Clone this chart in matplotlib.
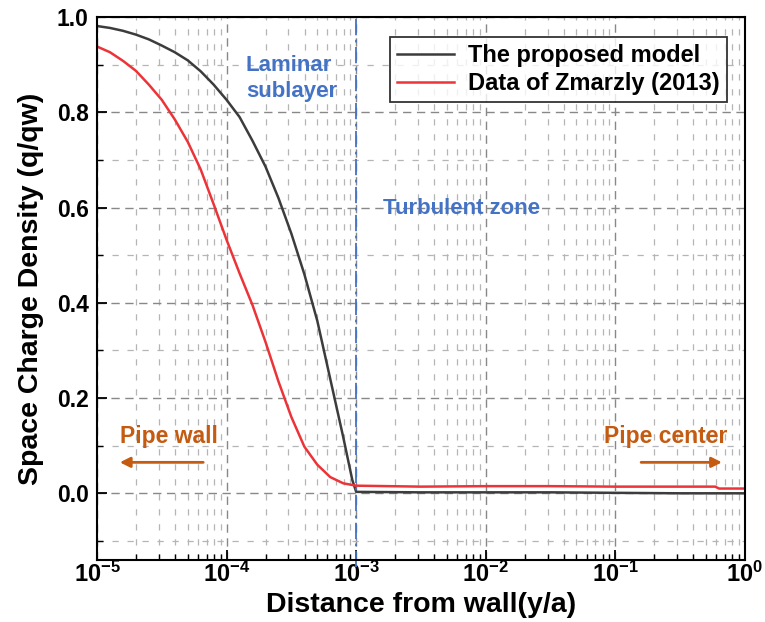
import numpy as np
import matplotlib.pyplot as plt
from matplotlib.ticker import LogLocator, MultipleLocator, FixedLocator

plt.rcParams['font.family'] = ['Liberation Sans', 'DejaVu Sans']
plt.rcParams['font.weight'] = 'bold'
plt.rcParams['mathtext.fontset'] = 'custom'
plt.rcParams['mathtext.rm'] = 'Liberation Sans:bold'
plt.rcParams['mathtext.it'] = 'Liberation Sans:bold'
plt.rcParams['mathtext.bf'] = 'Liberation Sans:bold'

# proposed model: log10(y/a) against q/qw
model_logy = [-5.0, -4.9, -4.8, -4.7, -4.6, -4.5, -4.4, -4.3, -4.2, -4.1, -4.0,
              -3.9, -3.8, -3.7, -3.6, -3.5, -3.4, -3.3, -3.2, -3.1, -3.03, -3.0,
              -2.5, -2.0, -1.5, -1.0, -0.5, 0.0]
model_q = [0.981, 0.977, 0.971, 0.963, 0.953, 0.940, 0.926, 0.909, 0.886, 0.858, 0.826,
           0.790, 0.740, 0.686, 0.620, 0.545, 0.460, 0.362, 0.240, 0.118, 0.028, 0.003,
           0.002, 0.002, 0.002, 0.001, 0.0, 0.0]

# Zmarzly (2013)
data_logy = [-5.0, -4.9, -4.8, -4.7, -4.6, -4.5, -4.4, -4.3, -4.2, -4.1, -4.0,
             -3.9, -3.8, -3.7, -3.6, -3.5, -3.4, -3.3, -3.2, -3.1, -3.0,
             -2.5, -2.0, -1.5, -1.0, -0.5, -0.23, -0.2, 0.0]
data_q = [0.938, 0.926, 0.908, 0.887, 0.858, 0.826, 0.785, 0.738, 0.680, 0.607, 0.532,
          0.462, 0.395, 0.318, 0.235, 0.160, 0.098, 0.060, 0.034, 0.021, 0.016,
          0.014, 0.015, 0.015, 0.014, 0.014, 0.014, 0.010, 0.010]

xt_values = [1e-5, 1e-4, 1e-3, 1e-2, 1e-1, 1]
xt_labels = ['$10^{-5}$', '$10^{-4}$', '$10^{-3}$', '$10^{-2}$', '$10^{-1}$', '$10^{0}$']
yt_values = [0.0, 0.2, 0.4, 0.6, 0.8, 1.0]
yt_labels = ['0.0', '0.2', '0.4', '0.6', '0.8', '1.0']

fig = plt.figure(figsize=(7.65, 6.22), dpi=100)
ax = fig.add_axes([0.1268, 0.0997, 0.847, 0.873])

ax.plot(10 ** np.array(model_logy), model_q, color='#3c3c3c', lw=1.8, label='The proposed model')
ax.plot(10 ** np.array(data_logy), data_q, color='#ec3438', lw=1.8, label='Data of Zmarzly (2013)')

# boundary between laminar sublayer and turbulent zone
ax.plot([1e-3, 1e-3], [-0.155, 1.0], color='#4472C4', lw=1.3,
        ls=(0, (9, 2.5, 1.5, 2.5)), clip_on=False)

ax.set_xscale('log')
ax.set_xlim(1e-5, 1)
ax.set_ylim(-0.14, 1.0)
ax.xaxis.set_major_locator(FixedLocator(xt_values))
ax.set_xticklabels(xt_labels, fontsize=17)
ax.xaxis.set_minor_locator(LogLocator(base=10, subs=np.arange(2, 10), numticks=20))
ax.set_yticks(yt_values)
ax.set_yticklabels(yt_labels, fontsize=16.5)
ax.yaxis.set_minor_locator(MultipleLocator(0.1))

ax.tick_params(which='major', direction='in', length=7, width=1.3)
ax.tick_params(which='minor', direction='in', length=4, width=1.0)
ax.tick_params(axis='x', pad=1)
ax.tick_params(axis='y', pad=6)

ax.grid(which='major', color='#888888', ls=(0, (6, 4)), lw=1.0)
ax.grid(which='minor', color='#b5b5b5', ls=(0, (5, 7)), lw=0.9)
ax.set_axisbelow(True)
for s in ax.spines.values():
    s.set_linewidth(1.5)

ax.set_xlabel('Distance from wall(y/a)', fontsize=20.5, fontweight='bold', labelpad=4)
ax.set_ylabel('Space Charge Density (q/qw)', fontsize=20.5, fontweight='bold', labelpad=9)

blue = '#4472C4'
orange = '#C55A11'
ax.text(1.41e-4, 0.871, 'Laminar\nsublayer', color=blue, fontsize=16, fontweight='bold',
        ha='left', va='center', linespacing=1.3)
ax.text(1.61e-3, 0.598, 'Turbulent zone', color=blue, fontsize=16, fontweight='bold',
        ha='left', va='center')
ax.text(1.5e-5, 0.12, 'Pipe wall', color=orange, fontsize=16.5, fontweight='bold',
        ha='left', va='center')
ax.text(0.73, 0.12, 'Pipe center', color=orange, fontsize=16.5, fontweight='bold',
        ha='right', va='center')
ax.annotate('', xy=(1.5e-5, 0.065), xytext=(6.6e-5, 0.065),
            arrowprops=dict(arrowstyle='-|>', color=orange, lw=2, mutation_scale=15,
                            shrinkA=0, shrinkB=0))
ax.annotate('', xy=(0.664, 0.065), xytext=(0.158, 0.065),
            arrowprops=dict(arrowstyle='-|>', color=orange, lw=2, mutation_scale=15,
                            shrinkA=0, shrinkB=0))

leg = ax.legend(loc='upper right', bbox_to_anchor=(0.972, 0.963), borderaxespad=0,
                fontsize=17, frameon=True, fancybox=False, edgecolor='black',
                handlelength=2.4, handletextpad=0.6, borderpad=0.3, labelspacing=0.2)
leg.get_frame().set_linewidth(1.3)
for t in leg.get_texts():
    t.set_fontweight('bold')

fig.savefig('out.png', dpi=100, facecolor='white')
